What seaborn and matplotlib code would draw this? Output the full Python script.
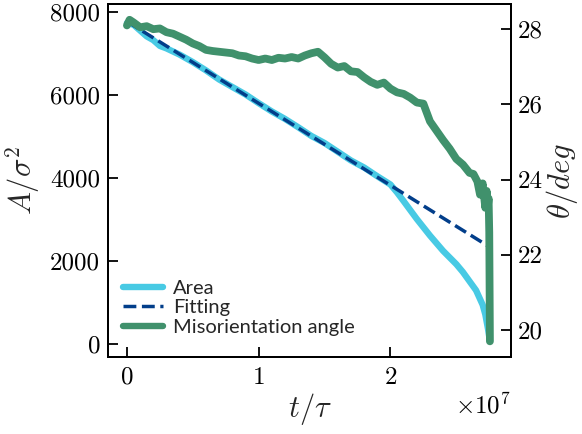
import matplotlib
matplotlib.use("Agg")
import matplotlib.pyplot as plt
from matplotlib.ticker import FuncFormatter, ScalarFormatter, FixedLocator
import seaborn as sns
import pandas as pd

# Grain area versus time (t in units of 1e7 tau)
area_t = [0.00, 0.05, 0.10, 0.15, 0.20, 0.25, 0.30, 0.40, 0.50, 0.60, 0.70,
          0.80, 0.90, 1.00, 1.10, 1.20, 1.30, 1.40, 1.50, 1.60, 1.70, 1.80,
          1.90, 2.00, 2.05, 2.10, 2.20, 2.30, 2.40, 2.50, 2.55, 2.60, 2.65,
          2.70, 2.72, 2.74, 2.755]
area_A = [7740, 7700, 7560, 7420, 7330, 7190, 7130, 6980, 6800, 6600, 6380,
          6200, 6020, 5810, 5610, 5430, 5230, 5020, 4850, 4640, 4430, 4260,
          4050, 3850, 3660, 3450, 3020, 2620, 2250, 1930, 1740, 1520, 1300,
          950, 720, 380, 80]

# Linear fit of the area
fit_t = [0.00, 2.745]
fit_A = [7780, 2360]

# Misorientation angle (degrees)
theta_t = [0.00, 0.02, 0.05, 0.10, 0.15, 0.20, 0.25, 0.30, 0.35, 0.40, 0.45,
           0.50, 0.55, 0.60, 0.65, 0.70, 0.75, 0.80, 0.85, 0.90, 0.95, 1.00,
           1.05, 1.10, 1.15, 1.20, 1.25, 1.30, 1.35, 1.40, 1.45, 1.50, 1.55,
           1.60, 1.65, 1.70, 1.75, 1.80, 1.85, 1.90, 1.95, 2.00, 2.05, 2.10,
           2.15, 2.20, 2.25, 2.30, 2.35, 2.40, 2.45, 2.50, 2.55, 2.60, 2.63,
           2.66, 2.68, 2.70, 2.72, 2.73, 2.74, 2.745, 2.750, 2.755]
theta_deg = [28.10, 28.25, 28.18, 28.05, 28.08, 28.00, 28.02, 27.92, 27.88,
             27.80, 27.72, 27.62, 27.55, 27.45, 27.42, 27.40, 27.38, 27.36,
             27.30, 27.28, 27.22, 27.18, 27.22, 27.18, 27.24, 27.22, 27.26,
             27.22, 27.30, 27.36, 27.40, 27.25, 27.08, 26.98, 27.02, 26.88,
             26.86, 26.72, 26.60, 26.52, 26.58, 26.42, 26.32, 26.28, 26.18,
             26.05, 26.02, 25.55, 25.30, 25.05, 24.82, 24.55, 24.40, 24.18,
             24.15, 23.95, 23.60, 23.90, 23.25, 23.70, 23.30, 23.50, 22.60,
             19.70]

left_ticks = [0, 2000, 4000, 6000, 8000]
right_ticks = [20, 22, 24, 26, 28]
x_ticks = [0, 1, 2]
scale = 1e7

c_area = "#48CAE4"
c_fit = "#023E8A"
c_theta = "#40916C"

sns.set_theme(style="ticks")
plt.rcParams.update({
    "font.family": "serif",
    "font.serif": ["cmr10"],
    "mathtext.fontset": "cm",
    "axes.formatter.use_mathtext": True,
    "axes.unicode_minus": False,
})

df_area = pd.DataFrame({"t": [v * scale for v in area_t], "A": area_A})
df_fit = pd.DataFrame({"t": [v * scale for v in fit_t], "A": fit_A})
df_theta = pd.DataFrame({"t": [v * scale for v in theta_t], "theta": theta_deg})

fig = plt.figure(figsize=(5.82, 4.34), dpi=100)
ax = fig.add_axes([0.1864, 0.178, 0.6916, 0.8128])
ax2 = ax.twinx()

sns.lineplot(data=df_area, x="t", y="A", ax=ax, color=c_area, lw=4.6,
             estimator=None, sort=False, label="Area")
sns.lineplot(data=df_fit, x="t", y="A", ax=ax, color=c_fit, lw=2.5,
             linestyle="--", estimator=None, sort=False, label="Fitting")
sns.lineplot(data=df_theta, x="t", y="theta", ax=ax2, color=c_theta, lw=5.6,
             estimator=None, sort=False, label="Misorientation angle")

ax.set_xlim(-0.14 * scale, 2.915 * scale)
ax.set_ylim(-300, 8200)
ax2.set_ylim(19.29, 28.67)

ax.yaxis.set_major_locator(FixedLocator(left_ticks))
ax2.yaxis.set_major_locator(FixedLocator(right_ticks))
ax.xaxis.set_major_locator(FixedLocator([v * scale for v in x_ticks]))
fmt = ScalarFormatter(useMathText=True)
fmt.set_powerlimits((0, 0))
ax.xaxis.set_major_formatter(fmt)
ax.yaxis.set_major_formatter(FuncFormatter(lambda v, p: f"{v:.0f}"))
ax2.yaxis.set_major_formatter(FuncFormatter(lambda v, p: f"{v:.0f}"))
ax.xaxis.get_offset_text().set_fontsize(18)

for a in (ax, ax2):
    a.tick_params(direction="in", length=7, width=1.3, labelsize=18,
                  color="black", labelcolor="black")
    for s in a.spines.values():
        s.set_linewidth(1.4)
        s.set_color("black")
ax.tick_params(axis="y", pad=6)
ax.tick_params(axis="x", pad=7)
ax2.tick_params(axis="y", pad=5)

ax.set_xlabel(r"$t/\tau$", fontsize=22, labelpad=2)
ax.set_ylabel(r"$A/\sigma^2$", fontsize=22, labelpad=6)
ax2.set_ylabel(r"$\theta/deg$", fontsize=22, labelpad=1)

ax.get_legend().remove()
h1, l1 = ax.get_legend_handles_labels()
h2, l2 = ax2.get_legend_handles_labels()
leg = ax2.legend(h1 + h2, l1 + l2, loc="lower left", frameon=False,
                 prop={"family": "Lato", "size": 14.5}, handlelength=2.0,
                 labelspacing=0.12, handletextpad=0.5, borderaxespad=0.3,
                 bbox_to_anchor=(0.0, 0.02))
leg.get_lines()[2].set_linewidth(4.6)

fig.savefig("out.png", dpi=100)
